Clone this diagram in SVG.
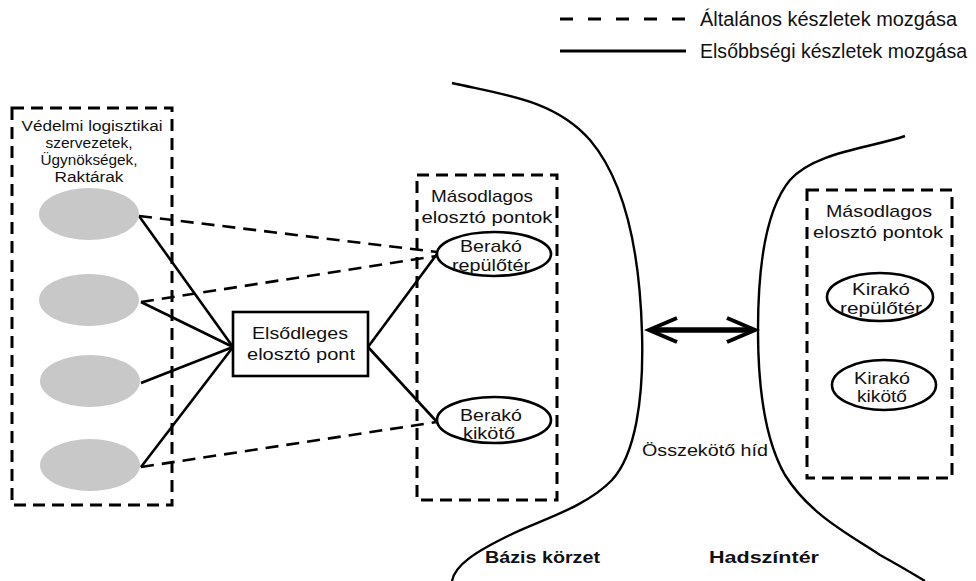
<svg xmlns="http://www.w3.org/2000/svg" width="976" height="581" viewBox="0 0 976 581">
  <style>
    text { font-family: "Liberation Sans", Arial, sans-serif; fill: #111; }
    .t15 { font-size: 15.5px; }
    .t17 { font-size: 17px; }
    .leg { font-size: 19.5px; }
    .bold { font-weight: bold; font-size: 17px; }
    .mid { text-anchor: middle; }
    .dbox { fill: none; stroke: #000; stroke-width: 3; stroke-dasharray: 12 7; }
    .solid { fill: none; stroke: #000; stroke-width: 2.6; }
    .dash { fill: none; stroke: #000; stroke-width: 2.6; stroke-dasharray: 13 8; }
    .src { fill: #c8c8c8; stroke: none; }
    .dest { fill: #fff; stroke: #000; stroke-width: 2.6; }
    .edge { fill: none; stroke: #000; stroke-width: 2.4; }
  </style>

  <!-- legend -->
  <g id="legend">
    <line x1="560" y1="19" x2="686" y2="19" stroke="#000" stroke-width="3" stroke-dasharray="13 15"/>
    <text class="leg" x="700" y="26" textLength="257" lengthAdjust="spacingAndGlyphs">Általános készletek mozgása</text>
    <line x1="560" y1="51" x2="686" y2="51" stroke="#000" stroke-width="3"/>
    <text class="leg" x="700" y="58" textLength="267" lengthAdjust="spacingAndGlyphs">Elsőbbségi készletek mozgása</text>
  </g>

  <!-- region boundaries -->
  <g id="boundaries">
    <path class="edge" d="M452,83 C505,95 555,100 590,140 C628,185 640,260 642,333 C644,400 635,455 612,480 C585,508 540,520 510,535 C475,552 455,565 452,581"/>
    <path class="edge" d="M905,136 C870,148 815,152 790,180 C765,210 758,270 758,330 C758,390 765,440 785,475 C810,515 850,535 880,555 C900,566 915,575 925,581"/>
  </g>

  <!-- connectors -->
  <g id="connectors">
    <!-- priority flows (solid) -->
    <line class="solid" x1="139" y1="216" x2="233" y2="347"/>
    <line class="solid" x1="141" y1="302" x2="233" y2="347"/>
    <line class="solid" x1="141" y1="383" x2="233" y2="347"/>
    <line class="solid" x1="141" y1="467" x2="233" y2="347"/>
    <line class="solid" x1="368" y1="347" x2="437" y2="254"/>
    <line class="solid" x1="368" y1="347" x2="437" y2="422"/>
    <!-- general flows (dashed) -->
    <line class="dash" x1="139" y1="216" x2="437" y2="252"/>
    <line class="dash" x1="141" y1="302" x2="437" y2="256"/>
    <line class="dash" x1="141" y1="467" x2="437" y2="422"/>
    <!-- bridge between base area and theatre -->
    <line x1="652" y1="330" x2="752" y2="330" stroke="#000" stroke-width="5.5"/>
    <polyline points="677,318 649,330 677,342" fill="none" stroke="#000" stroke-width="4"/>
    <polyline points="727,318 755,330 727,342" fill="none" stroke="#000" stroke-width="4"/>
  </g>

  <!-- defence logistics organisations -->
  <g id="sources">
    <rect class="dbox" x="12" y="108" width="160" height="397"/>
    <text class="t15 mid" x="92" y="131" textLength="141" lengthAdjust="spacingAndGlyphs">Védelmi logisztikai</text>
    <text class="t15 mid" x="89" y="148" textLength="87" lengthAdjust="spacingAndGlyphs">szervezetek,</text>
    <text class="t15 mid" x="89" y="165" textLength="97" lengthAdjust="spacingAndGlyphs">Ügynökségek,</text>
    <text class="t15 mid" x="89" y="182" textLength="69" lengthAdjust="spacingAndGlyphs">Raktárak</text>
  </g>
  <g id="source-1"><ellipse class="src" cx="89" cy="214" rx="50" ry="26"/></g>
  <g id="source-2"><ellipse class="src" cx="89" cy="300" rx="50" ry="26"/></g>
  <g id="source-3"><ellipse class="src" cx="90" cy="381" rx="50" ry="26"/></g>
  <g id="source-4"><ellipse class="src" cx="90" cy="465" rx="50" ry="26"/></g>

  <!-- primary distribution point -->
  <g id="primary">
    <rect x="233" y="312" width="135" height="64" fill="#fff" stroke="#000" stroke-width="2.6"/>
    <text class="t17 mid" x="300" y="339" textLength="96" lengthAdjust="spacingAndGlyphs">Elsődleges</text>
    <text class="t17 mid" x="301" y="360" textLength="108" lengthAdjust="spacingAndGlyphs">elosztó pont</text>
  </g>

  <!-- secondary distribution points, base side -->
  <g id="secondary-base">
    <rect class="dbox" x="417" y="175" width="140" height="325"/>
    <text class="t17 mid" x="482" y="202" textLength="102" lengthAdjust="spacingAndGlyphs">Másodlagos</text>
    <text class="t17 mid" x="487" y="223" textLength="131" lengthAdjust="spacingAndGlyphs">elosztó pontok</text>
  </g>
  <g id="loading-airport">
    <ellipse class="dest" cx="494" cy="254" rx="57" ry="22"/>
    <text class="t17 mid" x="491" y="252" textLength="62" lengthAdjust="spacingAndGlyphs">Berakó</text>
    <text class="t17 mid" x="491" y="271" textLength="78" lengthAdjust="spacingAndGlyphs">repülőtér</text>
  </g>
  <g id="loading-port">
    <ellipse class="dest" cx="494" cy="420" rx="57" ry="23"/>
    <text class="t17 mid" x="491" y="421" textLength="62" lengthAdjust="spacingAndGlyphs">Berakó</text>
    <text class="t17 mid" x="489" y="439" textLength="52" lengthAdjust="spacingAndGlyphs">kikötő</text>
  </g>

  <!-- secondary distribution points, theatre side -->
  <g id="secondary-theatre">
    <rect class="dbox" x="807" y="190" width="145" height="288"/>
    <text class="t17 mid" x="879" y="217" textLength="106" lengthAdjust="spacingAndGlyphs">Másodlagos</text>
    <text class="t17 mid" x="878" y="238" textLength="130" lengthAdjust="spacingAndGlyphs">elosztó pontok</text>
  </g>
  <g id="unloading-airport">
    <ellipse class="dest" cx="880" cy="297" rx="53" ry="24"/>
    <text class="t17 mid" x="881" y="295" textLength="58" lengthAdjust="spacingAndGlyphs">Kirakó</text>
    <text class="t17 mid" x="881" y="314" textLength="82" lengthAdjust="spacingAndGlyphs">repülőtér</text>
  </g>
  <g id="unloading-port">
    <ellipse class="dest" cx="884" cy="385" rx="52" ry="25"/>
    <text class="t17 mid" x="882" y="384" textLength="56" lengthAdjust="spacingAndGlyphs">Kirakó</text>
    <text class="t17 mid" x="882" y="402" textLength="50" lengthAdjust="spacingAndGlyphs">kikötő</text>
  </g>

  <!-- area labels -->
  <g id="labels">
    <text class="t17" x="642" y="456" textLength="126" lengthAdjust="spacingAndGlyphs">Összekötő híd</text>
    <text class="bold" x="485" y="563" textLength="115" lengthAdjust="spacingAndGlyphs">Bázis körzet</text>
    <text class="bold" x="709" y="563" textLength="110" lengthAdjust="spacingAndGlyphs">Hadszíntér</text>
  </g>
</svg>
